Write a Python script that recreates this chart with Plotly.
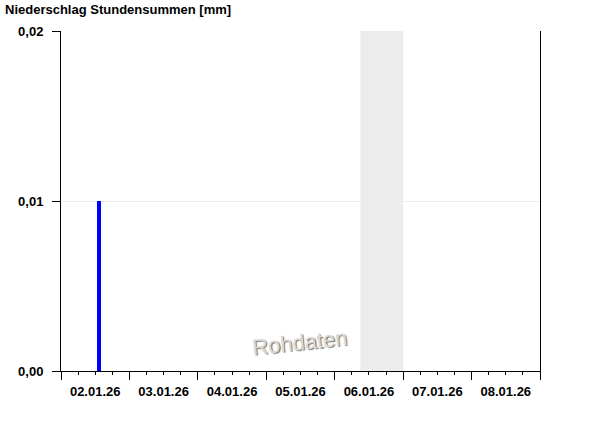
"""
Niederschlag Stundensummen - hourly precipitation bar chart.
"""
import pandas as pd
import plotly.graph_objects as go

# data
bar_times = ["2026-01-02 13:15"]
bar_values = [0.01]
band_start = "2026-01-06 09:00"
band_end = "2026-01-07 00:00"
x_start = "2026-01-02 00:00"
x_end = "2026-01-09 00:00"
day_labels = ["02.01.26", "03.01.26", "04.01.26", "05.01.26",
              "06.01.26", "07.01.26", "08.01.26"]
y_ticks = [0.0, 0.01, 0.02]
y_labels = ["0,00", "0,01", "0,02"]

midnights = pd.date_range(x_start, x_end, freq="D")
noons = midnights[:-1] + pd.Timedelta(hours=12)

FONT = "Liberation Sans, Arial, sans-serif"

fig = go.Figure()

fig.add_trace(go.Bar(
    x=pd.to_datetime(bar_times),
    y=bar_values,
    width=1.4 * 3600 * 1000,
    marker=dict(color="#0000ff", line=dict(width=0)),
    showlegend=False,
    hoverinfo="skip",
))

# invisible trace so the overlay axis (day boundary ticks) gets drawn
fig.add_trace(go.Scatter(
    x=[midnights[0], midnights[-1]], y=[0, 0],
    xaxis="x2", mode="lines", line=dict(width=0),
    showlegend=False, hoverinfo="skip",
))

fig.add_shape(
    type="rect", xref="x", yref="paper",
    x0=band_start, x1=band_end, y0=0, y1=1,
    fillcolor="#ececec", line=dict(width=0), layer="below",
)

fig.add_annotation(
    text="Rohdaten", xref="paper", yref="paper",
    x=0.497, y=0.025, showarrow=False, textangle=-6,
    font=dict(family=FONT, size=22, color="#dadada",
              shadow="1px 1px 1px #6a6a6a"),
)

fig.update_layout(
    width=600, height=426,
    margin=dict(l=61, r=60, t=31, b=55),
    paper_bgcolor="white", plot_bgcolor="white",
    bargap=0,
    title=dict(
        text="<b>Niederschlag Stundensummen [mm]</b>",
        xref="container", yref="container",
        x=5 / 600, y=1 - 9 / 426, xanchor="left", yanchor="middle",
        font=dict(family=FONT, size=13, color="black"),
    ),
    xaxis=dict(
        type="date",
        range=[midnights[0], midnights[-1]],
        tickmode="array", tickvals=noons, ticktext=day_labels,
        ticks="outside", ticklen=3, tickcolor="black", tickwidth=1,
        ticklabelstandoff=5,
        tickfont=dict(family=FONT, size=13, color="black", weight="bold"),
        minor=dict(ticks="outside", ticklen=3, tickcolor="black",
                   dtick=6 * 3600 * 1000, tick0=x_start, showgrid=False),
        showgrid=False, zeroline=False,
        showline=True, linecolor="black", linewidth=1,
        fixedrange=True,
    ),
    xaxis2=dict(
        type="date", overlaying="x", side="bottom",
        range=[midnights[0], midnights[-1]],
        tickmode="array", tickvals=midnights, showticklabels=False,
        ticks="outside", ticklen=8, tickcolor="black", tickwidth=1,
        showgrid=False, zeroline=False, showline=False,
    ),
    yaxis=dict(
        range=[0, 0.02],
        tickmode="array", tickvals=y_ticks, ticktext=y_labels,
        ticks="outside", ticklen=8, tickcolor="black", tickwidth=1,
        ticklabelstandoff=6,
        tickfont=dict(family=FONT, size=13, color="black", weight="bold"),
        showgrid=True, gridcolor="#ececec", gridwidth=1,
        zeroline=False,
        showline=True, linecolor="black", linewidth=1, mirror=True,
        fixedrange=True,
    ),
)

# the page body has a default 8px margin; drop it so the chart sits at 0,0
fig.write_html("out.html", config={"displayModeBar": False},
               post_script="document.body.style.margin='0';")
